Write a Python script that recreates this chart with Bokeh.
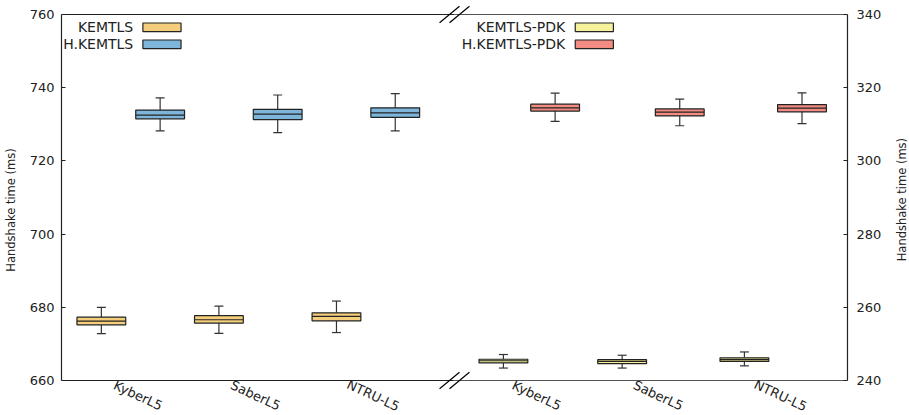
import math
import numpy as np
from bokeh.plotting import figure
from bokeh.layouts import row
from bokeh.models import (Range1d, LinearAxis, FixedTicker, Label, BoxAnnotation,
                          ColumnDataSource)
from bokeh.core.properties import value
from bokeh.embed import file_html
from bokeh.resources import INLINE

# ---------------- data ----------------
categories = ["KyberL5", "SaberL5", "NTRU-L5"]

# left panel (ms)
kemtls_pos = [1.0, 2.0, 3.0]
kemtls_lo = [672.8, 672.9, 673.1]
kemtls_q1 = [675.2, 675.7, 676.3]
kemtls_med = [676.2, 676.6, 677.5]
kemtls_q3 = [677.3, 677.7, 678.5]
kemtls_hi = [680.0, 680.3, 681.7]

hkemtls_pos = [1.5, 2.5, 3.5]
hkemtls_lo = [728.2, 727.7, 728.2]
hkemtls_q1 = [731.5, 731.3, 731.9]
hkemtls_med = [732.5, 732.8, 733.1]
hkemtls_q3 = [733.9, 734.1, 734.5]
hkemtls_hi = [737.2, 738.0, 738.4]

# right panel (ms)
pdk_pos = [4.42, 5.43, 6.47]
pdk_lo = [243.4, 243.4, 244.0]
pdk_q1 = [244.8, 244.6, 245.2]
pdk_med = [245.4, 245.2, 245.7]
pdk_q3 = [245.8, 245.7, 246.2]
pdk_hi = [247.1, 246.9, 247.8]

hpdk_pos = [4.86, 5.92, 6.96]
hpdk_lo = [310.8, 309.6, 310.2]
hpdk_q1 = [313.6, 312.3, 313.4]
hpdk_med = [314.5, 313.3, 314.4]
hpdk_q3 = [315.5, 314.2, 315.4]
hpdk_hi = [318.5, 316.9, 318.6]

left_ticks = [660, 680, 700, 720, 740, 760]
right_ticks = [240, 260, 280, 300, 320, 340]

series_names = ["KEMTLS", "H.KEMTLS", "KEMTLS-PDK", "H.KEMTLS-PDK"]
colors = ["#F5CE7C", "#7DB6DA", "#F6F29C", "#F28B82"]
y_title = "Handshake time (ms)"

# ---------------- layout constants ----------------
FONT = "DejaVu Sans"
X0, X1 = 0.661, 7.347
YL0, YL1 = 660, 760
YR0, YR1 = 240, 340
FL, FR, FT, FB = 60, 849, 14, 380   # pixel positions of the axis box
W, H = 884, 415
W2 = 909 - W
BOX_W = 0.415
CAP_W = 0.076
EDGE = "#222222"
WHISK = "#333333"
LABEL_SHIFT = 0.062


def px2x(px):
    return X0 + (px - FL) / (FR - FL) * (X1 - X0)


def py2y(py):
    return YL0 + (FB - py) / (FB - FT) * (YL1 - YL0)


def py2yr(py):
    return YR0 + (FB - py) / (FB - FT) * (YR1 - YR0)


TOP_PX, BOT_PX = 4, H
p = figure(width=W, height=H, x_range=Range1d(X0, X1),
           y_range=Range1d(py2y(BOT_PX), py2y(TOP_PX)),
           output_backend="svg", toolbar_location=None,
           min_border_left=FL, min_border_right=W - FR,
           min_border_top=TOP_PX, min_border_bottom=0)
p.extra_y_ranges = {"pdk": Range1d(py2yr(BOT_PX), py2yr(TOP_PX))}
p.background_fill_color = "white"
p.border_fill_color = "white"
p.outline_line_color = None
p.xgrid.visible = False
p.ygrid.visible = False
p.xaxis.visible = False


def style_yaxis(ax, ticks, tick_standoff):
    ax.ticker = FixedTicker(ticks=ticks)
    ax.bounds = (ticks[0], ticks[-1])
    ax.minor_tick_line_color = None
    ax.major_tick_in = 4
    ax.major_tick_out = 0
    ax.major_tick_line_color = EDGE
    ax.axis_line_color = EDGE
    ax.axis_line_width = 1.2
    ax.major_label_text_font = FONT
    ax.major_label_text_font_size = "13px"
    ax.major_label_text_color = "#222222"
    ax.major_label_standoff = tick_standoff


style_yaxis(p.yaxis[0], left_ticks, 7)
p.yaxis[0].axis_label = y_title
p.yaxis[0].axis_label_text_font = FONT
p.yaxis[0].axis_label_text_font_size = "11.5px"
p.yaxis[0].axis_label_text_font_style = "normal"
p.yaxis[0].axis_label_text_color = "#222222"
p.yaxis[0].axis_label_standoff = 9

raxis = LinearAxis(y_range_name="pdk")
style_yaxis(raxis, right_ticks, 9)
p.add_layout(raxis, "right")

# top / bottom spines of the two broken panels
BRK = px2x(454.5)
spines = ColumnDataSource(dict(x0=[X0, X0, BRK, BRK], x1=[BRK, BRK, X1, X1],
                               y=[YL0, YL1, YL0, YL1],
                               c=[EDGE, EDGE, "#555555", "#555555"]))
p.segment(x0="x0", x1="x1", y0="y", y1="y", line_color="c", line_width=1.2, source=spines)


def draw_boxes(pos, lo, q1, med, q3, hi, color, rng):
    pos = np.asarray(pos, dtype=float)
    src = ColumnDataSource(dict(x=pos, lo=lo, q1=q1, med=med, q3=q3, hi=hi,
                                xl=pos - BOX_W / 2, xr=pos + BOX_W / 2,
                                cl=pos - CAP_W / 2, cr=pos + CAP_W / 2))
    lk = dict(source=src, line_color=WHISK, line_width=1.2, y_range_name=rng)
    p.segment(x0="x", y0="q3", x1="x", y1="hi", **lk)
    p.segment(x0="x", y0="lo", x1="x", y1="q1", **lk)
    p.segment(x0="cl", y0="hi", x1="cr", y1="hi", **lk)
    p.segment(x0="cl", y0="lo", x1="cr", y1="lo", **lk)
    p.quad(left="xl", right="xr", bottom="q1", top="q3", source=src,
           fill_color=color, line_color=EDGE, line_width=1.2, y_range_name=rng)
    p.segment(x0="xl", y0="med", x1="xr", y1="med", source=src,
              line_color=EDGE, line_width=1.2, y_range_name=rng)


draw_boxes(kemtls_pos, kemtls_lo, kemtls_q1, kemtls_med, kemtls_q3, kemtls_hi, colors[0], "default")
draw_boxes(hkemtls_pos, hkemtls_lo, hkemtls_q1, hkemtls_med, hkemtls_q3, hkemtls_hi, colors[1], "default")
draw_boxes(pdk_pos, pdk_lo, pdk_q1, pdk_med, pdk_q3, pdk_hi, colors[2], "pdk")
draw_boxes(hpdk_pos, hpdk_lo, hpdk_q1, hpdk_med, hpdk_q3, hpdk_hi, colors[3], "pdk")

# category labels under each group (rotated, like the reference)
group_mids = [(a + b) / 2 for a, b in zip(kemtls_pos, hkemtls_pos)] + \
             [(a + b) / 2 for a, b in zip(pdk_pos, hpdk_pos)]
lab_src = ColumnDataSource(dict(x=[g + LABEL_SHIFT for g in group_mids],
                                y=[py2y(FB + 15)] * len(group_mids),
                                t=categories + categories))
p.text(x="x", y="y", text="t", source=lab_src, angle=-math.radians(25),
       text_align="center", text_baseline="middle", text_font=value(FONT),
       text_font_size="13px", text_color="#222222")

# legends (text first, patch after, as in the reference)
legend_rows = [(0, 132, 141.7, 180, 26.8), (1, 132, 141.7, 180, 43.8),
               (2, 565.7, 575.7, 614, 26.8), (3, 565.7, 575.7, 614, 43.8)]
for idx, tx, bl, br, cy in legend_rows:
    p.add_layout(Label(x=px2x(tx), y=py2y(cy), text=series_names[idx], text_align="right",
                       text_baseline="middle", text_font=FONT, text_font_size="14px",
                       text_color="#222222"))
    p.add_layout(BoxAnnotation(left=px2x(bl), right=px2x(br), bottom=py2y(cy + 4.3),
                               top=py2y(cy - 4.3), fill_color=colors[idx], fill_alpha=1.0,
                               line_color=EDGE, line_width=1.2, line_alpha=1.0))

# break marks "//" at top and bottom
gap = px2x(459.5) - px2x(454.5)
dx = px2x(10) - px2x(0)
dy = py2y(0) - py2y(8.3)
bx0, bx1, by0, by1 = [], [], [], []
for yc in (YL0, YL1):
    for off in (-gap, gap):
        bx0.append(BRK + off - dx)
        bx1.append(BRK + off + dx)
        by0.append(yc - dy)
        by1.append(yc + dy)
p.segment(x0=bx0, x1=bx1, y0=by0, y1=by1, line_color="black", line_width=1.2)

# right-hand axis title (reads bottom-to-top, as in the reference)
p2 = figure(width=W2, height=H, x_range=Range1d(0, 1), y_range=Range1d(0, 1),
            output_backend="svg", toolbar_location=None,
            min_border_left=0, min_border_right=0, min_border_top=0, min_border_bottom=0)
p2.axis.visible = False
p2.grid.visible = False
p2.outline_line_color = None
p2.background_fill_color = "white"
p2.border_fill_color = "white"
p2.text(x=[(901.5 - W) / W2], y=[1 - (FT + FB) / 2 / H], text=[y_title], angle=math.pi / 2,
        text_align="center", text_baseline="middle", text_font=value(FONT),
        text_font_size="11.5px", text_color="#222222")

layout = row(p, p2, spacing=0)
open("out.html", "w").write(file_html(layout, INLINE))
